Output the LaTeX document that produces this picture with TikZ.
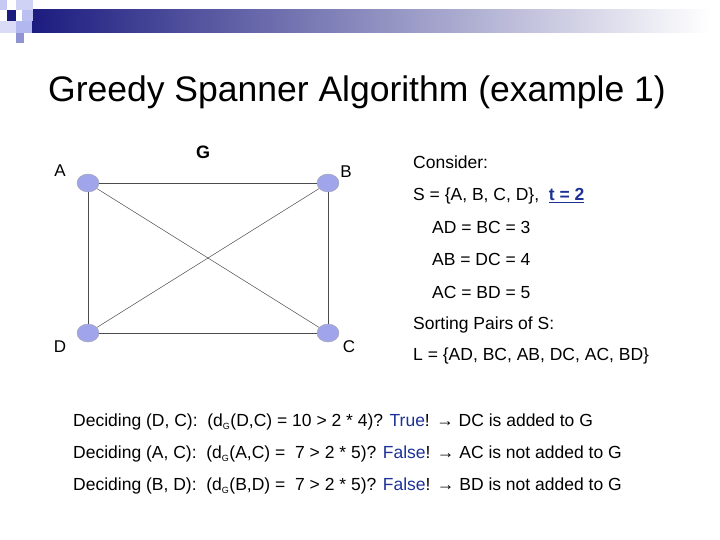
\documentclass[tikz,border=0pt]{standalone}
\usepackage{fontspec}
\setmainfont{Liberation Sans}
\usetikzlibrary{positioning,shapes.geometric}
\definecolor{navy}{RGB}{28,28,128}
\definecolor{vert}{RGB}{160,165,235}
\definecolor{hl}{RGB}{30,50,150}
\tikzset{
  vertex/.style={ellipse,draw=gray!70,fill=vert,minimum width=22pt,minimum height=18pt,inner sep=0pt},
  edge/.style={draw=black!70,line width=0.5pt},
  txt/.style={anchor=west,inner sep=0pt,font=\fontsize{17.5}{20}\selectfont},
  lbl/.style={inner sep=0pt,font=\fontsize{17}{20}\selectfont}
}
\newcommand{\sbG}{\textsubscript{\fontsize{9}{10}\selectfont G}}
\begin{document}
\begin{tikzpicture}[x=1pt,y=-1pt]
\useasboundingbox (0,0) rectangle (720,540);
% header decoration
\fill[left color=navy,right color=white] (32,10) rectangle (710,33);
\fill[navy] (7,10) rectangle (16,21);
\fill[vert!60] (0,0) rectangle (7,10);
\fill[vert!50] (16,0) rectangle (33,10);
\fill[vert!70] (22,10) rectangle (33,21);
\fill[vert!80] (16,21) rectangle (32,33);
\fill[vert!40] (0,21) rectangle (16,33);
\fill[vert!90!black] (16,33) rectangle (24,43);
\node[inner sep=0pt,font=\fontsize{35.5}{40}\selectfont] (title) at (357,92) {Greedy Spanner Algorithm (example 1)};
% graph
\node[vertex] (A) at (88,183) {};
\node[vertex] (B) at (328,183) {};
\node[vertex] (C) at (328,333) {};
\node[vertex] (D) at (88,333) {};
\draw[edge] (A) -- (B) -- (C) -- (D) -- (A);
\draw[edge] (A) -- (C);
\draw[edge] (B) -- (D);
\node[lbl] (la) at (60,171) {A};
\node[lbl] (lb) at (346,172) {B};
\node[lbl] (lc) at (349,347) {C};
\node[lbl] (ld) at (60,347) {D};
\node[lbl,font=\fontsize{18}{20}\selectfont\bfseries] (lg) at (203,152) {G};
% side text
\node[txt] (cons) at (413,162) {Consider:};
\node[txt] (set) at (413,196) {S = \{A, B, C, D\}, \ \textcolor{hl}{\bfseries\underline{t = 2}}};
\node[txt] (ad) at (432,227) {AD = BC = 3};
\node[txt] (ab) at (432,259) {AB = DC = 4};
\node[txt] (ac) at (432,292) {AC = BD = 5};
\node[txt] (sort) at (413,325) {Sorting Pairs of S:};
\node[txt] (list) at (413,356) {L = \{AD, BC, AB, DC, AC, BD\}};
% decisions
\node[txt] (d1) at (73,422) {Deciding (D, C): \ (d\sbG(D,C) = 10 > 2 * 4)? \textcolor{hl}{True}! → DC is added to G};
\node[txt] (d2) at (73,454) {Deciding (A, C): \ (d\sbG(A,C) = \ 7 > 2 * 5)? \textcolor{hl}{False}! → AC is not added to G};
\node[txt] (d3) at (73,486) {Deciding (B, D): \ (d\sbG(B,D) = \ 7 > 2 * 5)? \textcolor{hl}{False}! → BD is not added to G};
\end{tikzpicture}
\end{document}
